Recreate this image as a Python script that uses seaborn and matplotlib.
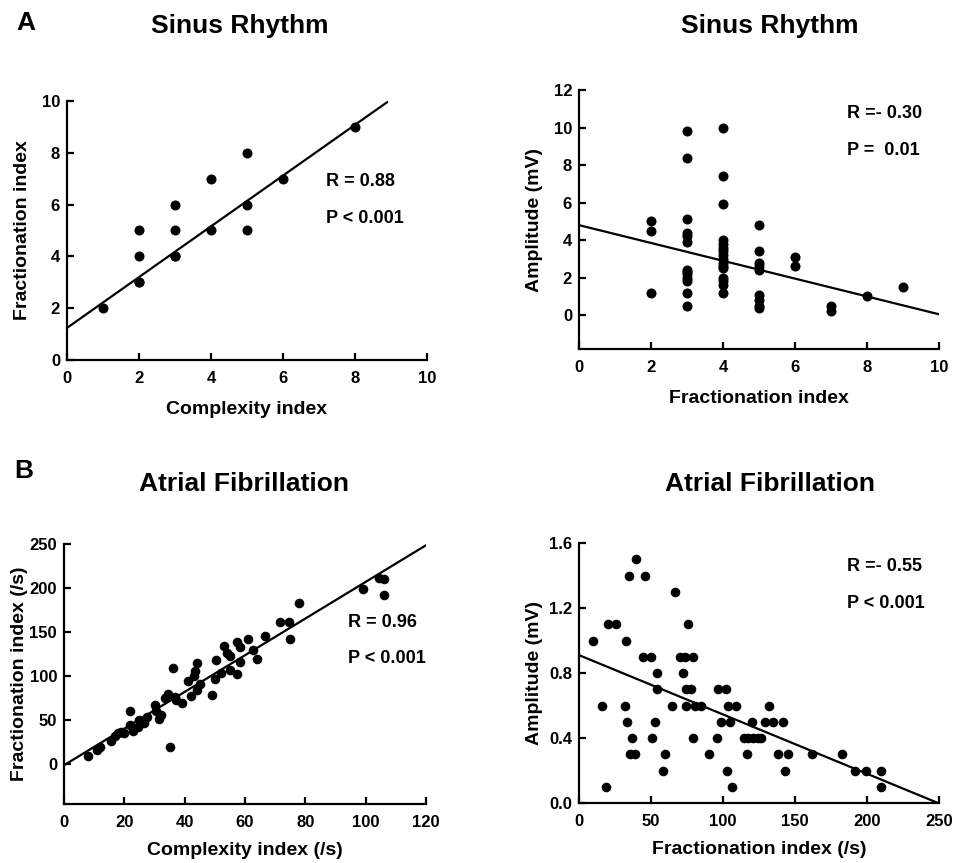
"""
Four scatter panels with regression lines: sinus rhythm vs atrial fibrillation
electrogram indices (complexity, fractionation, amplitude).
"""
import numpy as np
import pandas as pd
import matplotlib
matplotlib.use("Agg")
import matplotlib.pyplot as plt
import seaborn as sns

# --- Panel A left: sinus rhythm, complexity vs fractionation ---
sr_complexity = [1, 2, 2, 2, 2, 3, 3, 3, 3, 4, 4, 5, 5, 5, 6, 8]
sr_fractionation = [2, 3, 3, 4, 5, 4, 4, 5, 6, 5, 7, 5, 6, 8, 7, 9]
sr_cf_fit = (1.24, 0.98)  # intercept, slope
sr_cf_stats = ("R = 0.88", "P < 0.001")

# --- Panel A right: sinus rhythm, fractionation vs amplitude ---
sr_frac_amp_x = [2, 2, 2,
                 3, 3, 3, 3, 3, 3, 3, 3, 3, 3, 3, 3, 3,
                 4, 4, 4, 4, 4, 4, 4, 4, 4, 4, 4, 4, 4, 4, 4, 4,
                 5, 5, 5, 5, 5, 5, 5, 5, 5,
                 6, 6, 7, 7, 8, 9]
sr_amplitude = [5.0, 4.5, 1.2,
                9.8, 8.4, 5.1, 4.4, 4.2, 3.9, 2.4, 2.2, 2.0, 1.8, 1.2, 0.5, 2.3,
                10.0, 7.4, 5.9, 4.0, 3.8, 3.6, 3.4, 3.2, 3.0, 2.8, 2.6, 2.0, 1.8, 1.6, 1.2, 2.5,
                4.8, 3.4, 2.8, 2.6, 2.4, 1.1, 0.8, 0.5, 0.4,
                3.1, 2.6, 0.5, 0.2, 1.0, 1.5]
sr_fa_fit = (4.8, -0.475)
sr_fa_stats = ("R =- 0.30", "P =  0.01")

# --- Panel B left: atrial fibrillation, complexity vs fractionation (/s) ---
af_complexity = [8, 11, 12, 15.5, 17, 18, 19, 20, 22, 22, 23, 24.5, 25, 26.5,
                 27.5, 30, 30.5, 31.5, 32, 33.5, 34.5, 35, 36, 36.8, 37, 39,
                 41, 42, 43, 43.5, 44, 44, 45, 49, 50, 50.5, 52, 53, 54, 55,
                 55, 57.5, 57.5, 58.5, 58.5, 61, 62.5, 64, 66.5, 71.5, 74.5,
                 75, 78, 99, 104.5, 106, 106]
af_fractionation = [10, 16, 20, 26, 32, 35, 37, 36, 60, 45, 38, 42, 50, 47,
                    54, 67, 61, 52, 56, 75, 80, 20, 109, 76, 73, 70,
                    95, 78, 100, 106, 115, 84, 91, 79, 97, 118, 104, 134, 126, 123,
                    107, 139, 102, 133, 116, 142, 130, 119, 146, 162, 162,
                    142, 183, 199, 211, 210, 192]
af_cf_fit = (-1.0, 2.08)
af_cf_stats = ("R = 0.96", "P < 0.001")

# --- Panel B right: atrial fibrillation, fractionation (/s) vs amplitude ---
af_frac_amp_x = [10, 16, 19, 20, 26, 32, 32.5, 33, 35, 35.5, 37, 39, 39.5, 46,
                 44.5, 50, 51, 52.5, 54, 54.5, 58, 60, 64.5, 66.5, 70, 72,
                 73.5, 74.5, 74.5, 76, 78, 79, 79.5, 80.5, 84.5, 90.5, 95.5,
                 96.5, 98.5, 102, 103, 103.5, 105, 106.5, 109, 114.5, 116.5,
                 117.5, 120, 121, 124.5, 126.5, 129, 132, 134.5, 138.5, 142,
                 143, 145, 161.5, 182.5, 192, 199, 210, 210]
af_amplitude = [1.0, 0.6, 0.1, 1.1, 1.1, 0.6, 1.0, 0.5, 1.4, 0.3, 0.4, 0.3, 1.5, 1.4,
                0.9, 0.9, 0.4, 0.5, 0.7, 0.8, 0.2, 0.3, 0.6, 1.3, 0.9, 0.8,
                0.9, 0.7, 0.6, 1.1, 0.7, 0.4, 0.9, 0.6, 0.6, 0.3, 0.4,
                0.7, 0.5, 0.7, 0.2, 0.6, 0.5, 0.1, 0.6, 0.4, 0.3,
                0.4, 0.5, 0.4, 0.4, 0.4, 0.5, 0.6, 0.5, 0.3, 0.5,
                0.2, 0.3, 0.3, 0.3, 0.2, 0.2, 0.2, 0.1]
af_fa_fit = (0.91, -0.00365)
af_fa_stats = ("R =- 0.55", "P < 0.001")

FIG_W, FIG_H = 971, 863


def px_rect(x0, y0, x1, y1):
    """Axes rect from pixel box (top-left origin)."""
    return [x0 / FIG_W, 1 - y1 / FIG_H, (x1 - x0) / FIG_W, (y1 - y0) / FIG_H]


def draw_panel(ax, x, y, fit, stats, xlim, ylim, xticks, yticks,
               xlabel, ylabel, stat_xy, dot_size, xlab_y, yfmt=None):
    df = pd.DataFrame({"x": x, "y": y})
    sns.scatterplot(data=df, x="x", y="y", ax=ax, color="black", s=dot_size,
                    linewidth=0, clip_on=False, zorder=3)

    # regression line, clipped to the visible box
    b0, b1 = fit
    xs = np.linspace(xlim[0], xlim[1], 200)
    ys = b0 + b1 * xs
    keep = (ys <= ylim[1]) & (ys >= ylim[0])
    sns.lineplot(x=xs[keep], y=ys[keep], ax=ax, color="black", linewidth=1.6,
                 zorder=2)

    ax.set_xlim(*xlim)
    ax.set_ylim(*ylim)
    ax.set_xticks(xticks)
    ax.set_yticks(yticks)
    if yfmt:
        ax.set_yticklabels([yfmt.format(v) for v in yticks])
    sns.despine(ax=ax)
    for side in ("left", "bottom"):
        ax.spines[side].set_linewidth(1.6)
        ax.spines[side].set_color("black")
    ax.tick_params(direction="in", length=5, width=1.6, color="black",
                   labelsize=12, labelcolor="black")
    ax.tick_params(axis="x", pad=8)
    ax.tick_params(axis="y", pad=5)
    for lab in ax.get_xticklabels() + ax.get_yticklabels():
        lab.set_fontweight("bold")

    ax.set_xlabel(xlabel, fontsize=14, fontweight="bold", color="black")
    ax.set_ylabel(ylabel, fontsize=14, fontweight="bold", color="black")
    ax.xaxis.set_label_coords(0.5, xlab_y)
    ax.yaxis.set_label_coords(-0.10, 0.5)

    sx, sy1, sy2 = stat_xy
    ax.text(sx, sy1, stats[0], fontsize=13, fontweight="bold", va="center",
            ha="left", color="black")
    ax.text(sx, sy2, stats[1], fontsize=13, fontweight="bold", va="center",
            ha="left", color="black")


sns.set_theme(style="ticks")
plt.rcParams["font.family"] = ["Liberation Sans", "DejaVu Sans"]
plt.rcParams["font.weight"] = "bold"
plt.rcParams["text.color"] = "black"
plt.rcParams["axes.labelcolor"] = "black"

fig = plt.figure(figsize=(FIG_W / 100, FIG_H / 100), dpi=100)
fig.patch.set_facecolor("white")

ax1 = fig.add_axes(px_rect(67, 101, 427, 360))
ax2 = fig.add_axes(px_rect(579, 90, 939, 349))
ax3 = fig.add_axes(px_rect(64, 544, 426, 804))
ax4 = fig.add_axes(px_rect(579, 543, 939, 803))

draw_panel(ax1, sr_complexity, sr_fractionation, sr_cf_fit, sr_cf_stats,
           (0, 10), (0, 10), range(0, 11, 2), range(0, 11, 2),
           "Complexity index", "Fractionation index", (7.2, 6.9, 5.48), 52,
           -0.16)
draw_panel(ax2, sr_frac_amp_x, sr_amplitude, sr_fa_fit, sr_fa_stats,
           (0, 10), (-1.8, 12), range(0, 11, 2), range(0, 13, 2),
           "Fractionation index", "Amplitude (mV)", (7.45, 10.77, 8.75), 52,
           -0.16)
draw_panel(ax3, af_complexity, af_fractionation, af_cf_fit, af_cf_stats,
           (0, 120), (-45, 250), range(0, 121, 20), range(0, 251, 50),
           "Complexity index (/s)", "Fractionation index (/s)",
           (94, 161, 120), 48, -0.145)
draw_panel(ax4, af_frac_amp_x, af_amplitude, af_fa_fit, af_fa_stats,
           (0, 250), (0, 1.6), range(0, 251, 50), [0, 0.4, 0.8, 1.2, 1.6],
           "Fractionation index (/s)", "Amplitude (mV)", (186, 1.458, 1.23), 48,
           -0.145, yfmt="{:.1f}")

# panel letters and row titles
fig.text(16 / FIG_W, 1 - 30 / FIG_H, "A", fontsize=19, fontweight="bold",
         ha="left", va="baseline")
fig.text(240 / FIG_W, 1 - 33 / FIG_H, "Sinus Rhythm", fontsize=19,
         fontweight="bold", ha="center", va="baseline")
fig.text(770 / FIG_W, 1 - 33 / FIG_H, "Sinus Rhythm", fontsize=19,
         fontweight="bold", ha="center", va="baseline")
fig.text(14 / FIG_W, 1 - 478 / FIG_H, "B", fontsize=19, fontweight="bold",
         ha="left", va="baseline")
fig.text(244 / FIG_W, 1 - 491 / FIG_H, "Atrial Fibrillation", fontsize=19,
         fontweight="bold", ha="center", va="baseline")
fig.text(770 / FIG_W, 1 - 491 / FIG_H, "Atrial Fibrillation", fontsize=19,
         fontweight="bold", ha="center", va="baseline")

fig.savefig("out.png", dpi=100, facecolor="white")
